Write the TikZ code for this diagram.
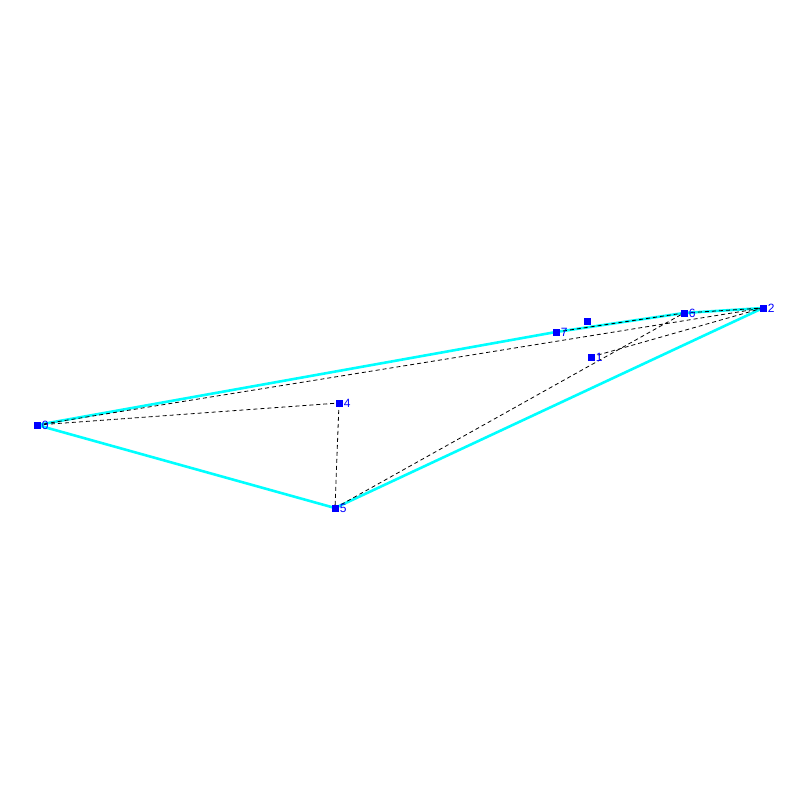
\documentclass[tikz,border=0pt]{standalone}
\usepackage{fontspec}
\setmainfont{Liberation Sans}
\definecolor{hullcyan}{RGB}{0,255,255}
\definecolor{ptblue}{RGB}{0,0,255}
\begin{document}
\begin{tikzpicture}[x=1pt,y=-1pt,
  pt/.style={fill=ptblue,inner sep=0pt,minimum size=7pt,draw=none},
  lab/.style={text=ptblue,font=\fontsize{12}{12}\selectfont,inner sep=0pt,anchor=west},
  hull/.style={hullcyan,line width=2.6pt},
  edge/.style={black,line width=0.8pt,dash pattern=on 4pt off 3pt}]
\fill[white] (0,0) rectangle (800,800);
\useasboundingbox (0,0) rectangle (800,800);
\coordinate (c0) at (37,425);
\coordinate (c1) at (591,357);
\coordinate (c2) at (763,308);
\coordinate (c3) at (587,321);
\coordinate (c4) at (339,403);
\coordinate (c5) at (335,508);
\coordinate (c6) at (684,313);
\coordinate (c7) at (556,332);
% hull
\draw[hull,line join=round] (c0) -- (c7) -- (c6) -- (c2) -- (c5) -- cycle;
% dashed edges
\draw[edge] (c0) -- (c4);
\draw[edge] (c4) -- (c5);
\draw[edge] (c0) -- (c2);
\draw[edge] (c7) -- (c6);
\draw[edge] (c6) -- (c2);
\draw[edge] (c5) -- (c6);
\draw[edge] (c1) -- (c2);
% points
\node[pt] (p0) at (c0) {};
\node[pt] (p1) at (c1) {};
\node[pt] (p2) at (c2) {};
\node[pt] (p3) at (c3) {};
\node[pt] (p4) at (c4) {};
\node[pt] (p5) at (c5) {};
\node[pt] (p6) at (c6) {};
\node[pt] (p7) at (c7) {};
% labels
\node[lab] (l0) at ([xshift=1pt]p0.east) {0};
\node[lab] (l1) at ([xshift=1pt]p1.east) {1};
\node[lab] (l2) at ([xshift=1pt]p2.east) {2};
\node[lab] (l4) at ([xshift=1pt]p4.east) {4};
\node[lab] (l5) at ([xshift=1pt]p5.east) {5};
\node[lab] (l6) at ([xshift=1pt]p6.east) {6};
\node[lab] (l7) at ([xshift=1pt]p7.east) {7};
\end{tikzpicture}
\end{document}
